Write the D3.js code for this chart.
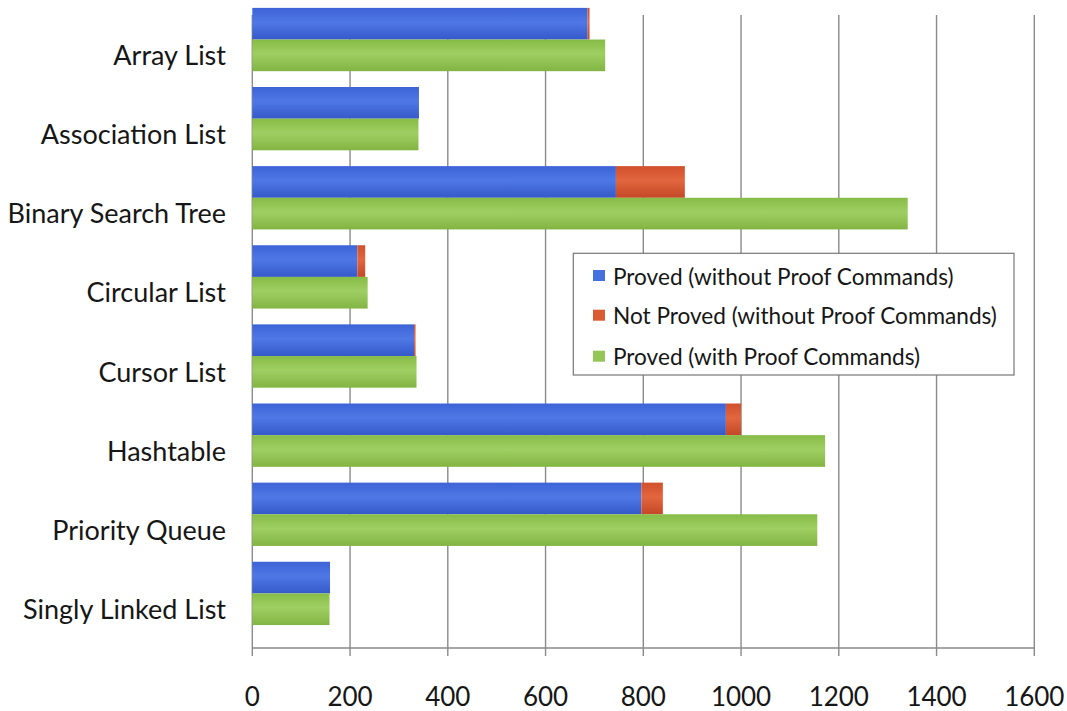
<!DOCTYPE html>
<html>
<head>
<meta charset="utf-8">
<script src="https://cdn.jsdelivr.net/npm/d3@7"></script>
<style>
  html, body { margin: 0; padding: 0; background: #fff; }
  svg { display: block; }
  text { font-family: Lato, "Open Sans", "Noto Sans", sans-serif; fill: #161616; }
</style>
</head>
<body>
<svg id="chart" width="1067" height="711"></svg>
<script>
// Verification results per data structure
const categories = [
  "Array List", "Association List", "Binary Search Tree", "Circular List",
  "Cursor List", "Hashtable", "Priority Queue", "Singly Linked List"
];
const provedWithout = [686, 341, 744, 215, 331, 969, 796, 159];
const notProvedWithout = [4, 0, 141, 16, 3, 31, 44, 0];
const provedWith = [722, 340, 1341, 236, 336, 1172, 1156, 158];

const xTicks = [0, 200, 400, 600, 800, 1000, 1200, 1400, 1600];
const seriesNames = [
  "Proved (without Proof Commands)",
  "Not Proved (without Proof Commands)",
  "Proved (with Proof Commands)"
];

const svg = d3.select("#chart");
const plot = { left: 252.3, right: 1034.3, top: 15, bottom: 648 };

const x = d3.scaleLinear().domain([0, 1600]).range([plot.left, plot.right]);
const y = d3.scaleBand().domain(categories).range([plot.top, plot.bottom]).padding(0);

// gradients giving the bars a slightly rounded look
const defs = svg.append("defs");
function grad(id, stops) {
  const g = defs.append("linearGradient").attr("id", id)
    .attr("x1", 0).attr("y1", 0).attr("x2", 0).attr("y2", 1);
  stops.forEach(([o, c]) => g.append("stop").attr("offset", o).attr("stop-color", c));
}
grad("gBlue", [[0, "#3d63d6"], [0.45, "#4f78e6"], [1, "#3559c9"]]);
grad("gRed", [[0, "#d0502c"], [0.45, "#e2663e"], [1, "#c44826"]]);
grad("gGreen", [[0, "#87bb47"], [0.45, "#9fcf62"], [1, "#82b443"]]);
const fills = ["url(#gBlue)", "url(#gRed)", "url(#gGreen)"];
const swatch = ["#4570e0", "#d95a33", "#94c656"];

// vertical gridlines with outward tick marks
const grid = svg.append("g");
xTicks.forEach(t => {
  grid.append("line")
    .attr("x1", x(t)).attr("x2", x(t))
    .attr("y1", plot.top).attr("y2", plot.bottom + 8)
    .attr("stroke", "#8a8a8a").attr("stroke-width", 1.4);
});
// horizontal category axis line
svg.append("line")
  .attr("x1", plot.left).attr("x2", plot.right)
  .attr("y1", plot.bottom).attr("y2", plot.bottom)
  .attr("stroke", "#8a8a8a").attr("stroke-width", 1.4);

// bars: stacked pair (proved / not proved) above the "with commands" bar
const bw = y.bandwidth();
const barH = bw * 0.4;
const pairTop = c => y(c) - bw * 0.09;

const bars = svg.append("g");
categories.forEach((c, i) => {
  const y0 = pairTop(c);
  bars.append("rect")
    .attr("x", x(0)).attr("y", y0)
    .attr("width", x(provedWithout[i]) - x(0)).attr("height", barH)
    .attr("fill", fills[0]);
  if (notProvedWithout[i] > 0) {
    bars.append("rect")
      .attr("x", x(provedWithout[i])).attr("y", y0)
      .attr("width", x(provedWithout[i] + notProvedWithout[i]) - x(provedWithout[i]))
      .attr("height", barH)
      .attr("fill", fills[1]);
  }
  bars.append("rect")
    .attr("x", x(0)).attr("y", y0 + barH)
    .attr("width", x(provedWith[i]) - x(0)).attr("height", barH)
    .attr("fill", fills[2]);
});

// category labels
svg.append("g").selectAll("text").data(categories).join("text")
  .attr("x", 226)
  .attr("y", c => y(c) + bw / 2)
  .attr("text-anchor", "end")
  .attr("dominant-baseline", "central")
  .attr("font-size", 27)
  .text(c => c);

// value axis labels
svg.append("g").selectAll("text").data(xTicks).join("text")
  .attr("x", t => x(t))
  .attr("y", 696)
  .attr("text-anchor", "middle")
  .attr("dominant-baseline", "central")
  .attr("font-size", 26)
  .text(t => t);

// legend
const lg = svg.append("g");
lg.append("rect")
  .attr("x", 573.3).attr("y", 253.3).attr("width", 440.7).attr("height", 121.7)
  .attr("fill", "#fff").attr("stroke", "#777").attr("stroke-width", 1.2);
const rowY = [276, 315.7, 356.7];
seriesNames.forEach((s, i) => {
  lg.append("rect")
    .attr("x", 593).attr("y", rowY[i] - 6).attr("width", 12).attr("height", 11)
    .attr("fill", swatch[i]);
  lg.append("text")
    .attr("x", 613).attr("y", rowY[i])
    .attr("dominant-baseline", "central")
    .attr("font-size", 22.6)
    .text(s);
});
</script>
</body>
</html>
